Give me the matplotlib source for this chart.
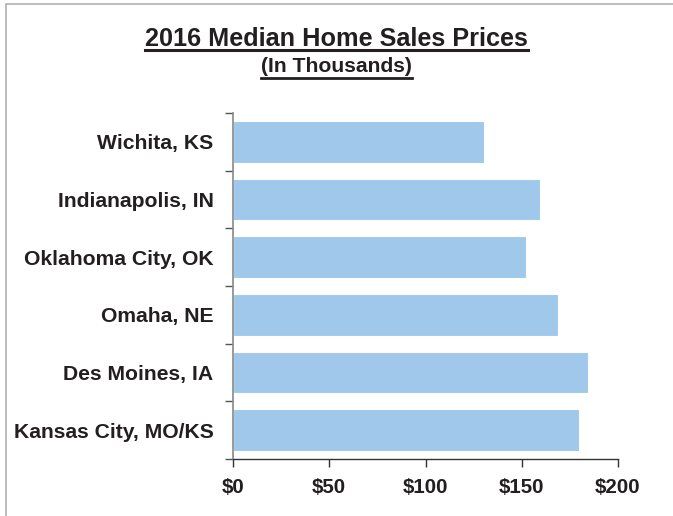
import numpy as np
import matplotlib
matplotlib.use('Agg')
import matplotlib.pyplot as plt
from matplotlib.patches import Rectangle
from matplotlib.lines import Line2D

# Data (thousands of dollars), top to bottom as shown
cities = ["Wichita, KS", "Indianapolis, IN", "Oklahoma City, OK",
          "Omaha, NE", "Des Moines, IA", "Kansas City, MO/KS"]
prices = [130.4, 159.5, 152.4, 168.8, 184.2, 179.6]
xticks = [0, 50, 100, 150, 200]
xtick_labels = ["$0", "$50", "$100", "$150", "$200"]

plt.rcParams['font.family'] = ['Liberation Sans', 'DejaVu Sans']

fig = plt.figure(figsize=(6.73, 5.16), dpi=100)
ax = fig.add_axes([233 / 673, 1 - 459 / 516, 385 / 673, 346 / 516])

n = len(cities)
ypos = np.arange(n)[::-1]
ax.barh(ypos, prices, height=0.72, color='#9fc8ea', edgecolor='white',
        linewidth=0.8)

ax.set_xlim(0, 200)
ax.set_ylim(-0.5, n - 0.5)
ax.set_xticks(xticks)
ax.set_xticklabels(xtick_labels, fontsize=14.8, fontweight='bold',
                   color='#231f20')
ax.set_yticks(ypos)
ax.set_yticklabels(cities, fontsize=15.2, fontweight='bold', color='#231f20')
ax.set_yticks(np.arange(-0.5, n, 1.0), minor=True)
ax.tick_params(axis='y', which='major', length=0, pad=14)
ax.tick_params(axis='y', which='minor', length=6, width=1, color='#555555')
ax.tick_params(axis='x', which='major', length=6, width=1, color='#333333',
               pad=8)

for s in ['top', 'right']:
    ax.spines[s].set_visible(False)
ax.spines['left'].set_color('#888888')
ax.spines['left'].set_linewidth(1.2)
ax.spines['bottom'].set_color('#333333')
ax.spines['bottom'].set_linewidth(1.0)

# Titles with underline
t1 = fig.text(0.5, 1 - 38.5 / 516, "2016 Median Home Sales Prices",
              ha='center', va='center', fontsize=18.2, fontweight='bold',
              color='#231f20')
t2 = fig.text(0.5, 1 - 67 / 516, "(In Thousands)",
              ha='center', va='center', fontsize=15.2, fontweight='bold',
              color='#231f20')

fig.canvas.draw()
renderer = fig.canvas.get_renderer()
inv = fig.transFigure.inverted()
for t, lw, yline in [(t1, 2.2, 49.5), (t2, 2.0, 77.5)]:
    bb = t.get_window_extent(renderer)
    (x0, _), (x1, _) = inv.transform([(bb.x0, bb.y0), (bb.x1, bb.y1)])
    yy = 1 - yline / 516
    fig.add_artist(Line2D([x0, x1], [yy, yy],
                          transform=fig.transFigure, color='#231f20', lw=lw))

# Outer frame (partially visible in the reference)
fig.add_artist(Rectangle((6 / 673, -0.05), 1.2, 1 - 4 / 516 + 0.05,
                         transform=fig.transFigure, fill=False,
                         edgecolor='#b0b0b0', lw=1.2))

fig.savefig('out.png', dpi=100)
